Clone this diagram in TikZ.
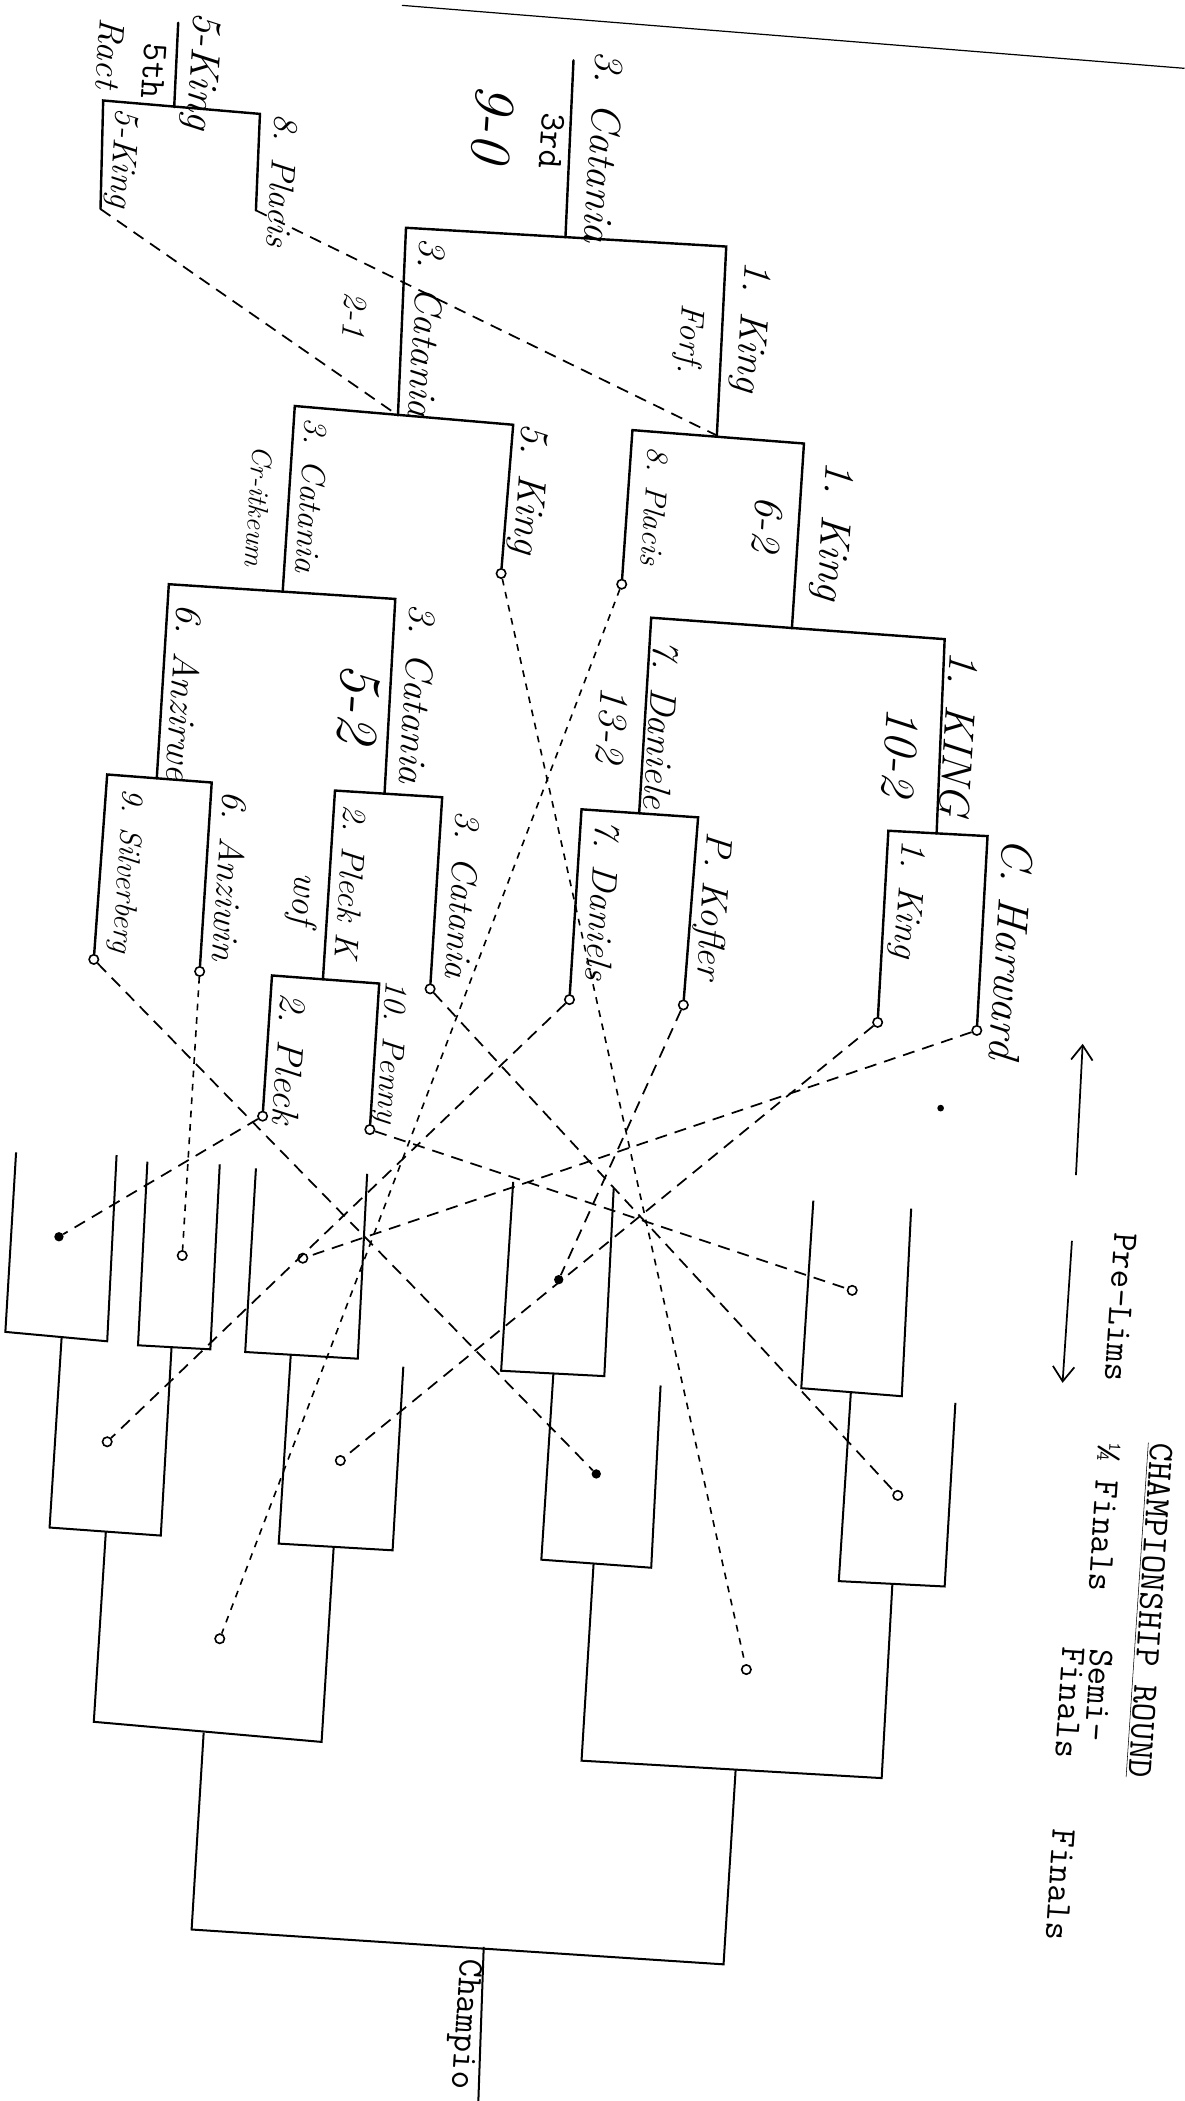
\documentclass[tikz,border=0pt]{standalone}
\usepackage{fontspec}
\usetikzlibrary{arrows.meta}

\begin{document}
\begin{tikzpicture}[x=1pt, y=-1pt,
      br/.style={line width=1.5pt, line join=miter},          % getippte Klammern
      hb/.style={line width=1.8pt, line cap=round},           % handgezeichnete Klammern
      dsh/.style={line width=1.3pt, dash pattern=on 9pt off 6pt},
      dshf/.style={line width=1.2pt, dash pattern=on 5pt off 5pt},
      ring/.style={circle, draw, line width=1.2pt, inner sep=0pt, minimum size=7pt, fill=white},
      blob/.style={circle, fill, inner sep=0pt, minimum size=7pt},
      tw/.style={font=\ttfamily\fontsize{27}{21}\selectfont, rotate=-93.8, anchor=west, inner sep=0pt, align=left},
      hw/.style={font=\itshape\fontsize{#1}{#1}\selectfont, rotate=-93.8, inner sep=0pt},
      >={Straight Barb[length=11pt, width=16pt, line width=1.3pt]}]
   \useasboundingbox (0,0) rectangle (884,1568);
   % Blattkante
   \draw[line width=0.9pt] (300,4) -- (884,51);

   % Kreise der Trostrunde
   \node[ring] (c5King) at (374,428) {};
   \node[ring] (cPlacis) at (464,436) {};
   \node[ring] (cSilver) at (70,716) {};
   \node[ring] (cAnziwin) at (149,725) {};
   \node[ring] (cCat) at (321,738) {};
   \node[ring] (cPleck) at (196,833) {};
   \node[ring] (cPenny) at (276,843) {};
   \node[ring] (cDaniels) at (425,746) {};
   \node[ring] (cKofler) at (510,750) {};
   \node[ring] (cKing) at (655,763) {};
   \node[ring] (cHarward) at (729,769) {};
   \coordinate (l5King) at (75,156);
   \coordinate (l8Placis) at (191,157);
   \coordinate (jS1) at (297,310);
   \coordinate (jS2) at (535,325);

   % Trostrunde (Hand)
   \draw[hb] (133,17) -- (130,80);
   \draw[hb] (l5King) -- (77,75) -- (194,85) -- (l8Placis);
   \draw[hb] (428,45) -- (422,177);
   \draw[hb] (jS1) -- (303,170) -- (542,184) -- (jS2);
   \draw[hb] (211,441) -- (220,303) -- (383,317) -- (c5King);
   \draw[hb] (cPlacis) -- (472,321) -- (600,331) -- (591,469);
   \draw[hb] (117,581) -- (126,436) -- (295,447) -- (287,592);
   \draw[hb] (477,607) -- (486,461) -- (705,477) -- (699,622);
   \draw[hb] (cSilver) -- (80,578) -- (158,584) -- (cAnziwin);
   \draw[hb] (241,731) -- (250,590) -- (330,595) -- (cCat);
   \draw[hb] (cPleck) -- (203,728) -- (283,734) -- (cPenny);
   \draw[hb] (cDaniels) -- (434,604) -- (521,610) -- (cKofler);
   \draw[hb] (cKing) -- (663,620) -- (737,624) -- (cHarward);

   % Meisterschaftsrunde (getippt)
   \draw[br] (12,860) -- (4,994) -- (80,1001) -- (87,862);
   \draw[br] (110,867) -- (103,1004) -- (157,1007) -- (164,869);
   \draw[br] (191,872) -- (183,1009) -- (267,1014) -- (274,876);
   \draw[br] (383,882) -- (374,1023) -- (451,1027) -- (458,887);
   \draw[br] (607,896) -- (598,1036) -- (673,1042) -- (680,902);
   \draw[br] (46,998) -- (37,1140) -- (120,1146) -- (128,1006);
   \draw[br] (217,1011) -- (208,1152) -- (293,1157) -- (301,1020);
   \draw[br] (413,1025) -- (404,1164) -- (486,1170) -- (493,1034);
   \draw[br] (635,1039) -- (626,1180) -- (705,1184) -- (713,1047);
   \draw[br] (79,1143) -- (70,1285) -- (240,1300) -- (249,1155);
   \draw[br] (443,1167) -- (434,1314) -- (658,1327) -- (666,1182);
   \draw[br] (152,1293) -- (143,1440) -- (540,1466) -- (549,1321);
   \draw[br] (361,1453) -- (357,1568);

   % Kreise der Meisterschaftsrunde
   \node[blob] (pU1) at (44,923) {};
   \node[ring] (pU2) at (136,937) {};
   \node[ring] (pU3) at (226,939) {};
   \node[blob] (pU7) at (417,955) {};
   \node[ring] (pU8) at (636,963) {};
   \node[ring] (qQ1) at (80,1076) {};
   \node[ring] (qQ2) at (254,1090) {};
   \node[blob] (qQL) at (445,1100) {};
   \node[ring] (qQR) at (670,1116) {};
   \node[ring] (sSL) at (164,1223) {};
   \node[ring] (sSR) at (557,1246) {};

   % Verlierer
   \draw[dsh] (l5King) -- (jS1);
   \draw[dsh] (l8Placis) -- (jS2);
   \foreach \a/\b in {cAnziwin/pU2, c5King/sSR, cPlacis/sSL}
      \draw[dshf] (\a) -- (\b);
   \foreach \a/\b in {cPleck/pU1, cKing/qQ2, cHarward/pU3, cDaniels/qQ1, cCat/qQR, cKofler/pU7, cPenny/pU8, cSilver/qQL}
      \draw[dsh] (\a) -- (\b);
   \fill (702,827) circle (2.5);

   % Pfeile
   \coordinate (aUpA) at (803,877);
   \coordinate (aUpB) at (808,779);
   \coordinate (aDnA) at (800,926);
   \coordinate (aDnB) at (793,1032);
   \draw[->, line width=1.3pt] (aUpA) -- (aUpB);
   \draw[->, line width=1.3pt] (aDnA) -- (aDnB);

   % Beschriftung getippt
   \node[tw] (tPre) at (840,920) {Pre-Lims};
   \node[tw] (tTitle) at (866,1077) {\underline{CHAMPIONSHIP ROUND}};
   \node[tw] (tQuarter) at (828,1077) {¼ Finals};
   \node[tw, anchor=north west] (tSemi) at (831,1231) {Semi-\\Finals};
   \node[tw] (tFinal) at (794,1365) {Finals};
   \node[tw] (tChamp) at (349,1462) {Champio};
   \node[tw] (t3rd) at (413,84) {3rd};
   \node[tw] (t5th) at (116,32) {5th};

   % Beschriftung Hand
   \node[hw=31] (tKing5) at (150,53) {5-King};
   \node[hw=27] (tRact) at (82,40) {Ract};
   \node[hw=26] (tKing5b) at (91,118) {5-King};
   \node[hw=26] (tPlacis5) at (211,135) {8. Placis};
   \node[hw=31] (tCat0) at (451,110) {3. Catania};
   \node[hw=43] (tScore0) at (368,92) {9-0};
   \node[hw=30] (tKing0) at (560,244) {1. King};
   \node[hw=25] (tForf) at (514,253) {Forf.};
   \node[hw=29] (tCat0b) at (319,245) {3. Catania};
   \node[hw=25] (tScore1) at (265,235) {2-1};
   \node[hw=25] (tCat1) at (233,370) {3. Catania};
   \node[hw=21] (tCrit) at (193,378) {Cr-itkeum};
   \node[hw=30] (tKing1) at (394,365) {5. King};
   \node[hw=23] (tPlacis2) at (489,378) {8. Placis};
   \node[hw=32] (tKing2) at (621,396) {1. King};
   \node[hw=31] (tScore2) at (573,391) {6-2};
   \node[hw=29] (tCat3) at (312,518) {3. Catania};
   \node[hw=44] (tScore3) at (268,525) {5-2};
   \node[hw=28] (tAnz3) at (138,517) {6. Anzirwe};
   \node[hw=23] (tSilver) at (94,650) {9. Silverberg};
   \node[hw=27] (tAnz5) at (172,654) {6. Anziwin};
   \node[hw=25] (tPleck6) at (262,658) {2. Pleck K};
   \node[hw=27] (tWof) at (226,671) {wof};
   \node[hw=27] (tCat6) at (346,668) {3. Catania};
   \node[hw=28] (tPleck) at (216,790) {2. Pleck};
   \node[hw=24] (tPenny) at (291,785) {10. Penny};
   \node[hw=28] (tDan4) at (494,541) {7. Daniele};
   \node[hw=31] (tScore4) at (457,541) {13-2};
   \node[hw=32] (tKing4) at (716,548) {1. KING};
   \node[hw=36] (tScore5) at (672,561) {10-2};
   \node[hw=27] (tDan7) at (450,672) {7. Daniels};
   \node[hw=28] (tKofler) at (531,676) {P. Kofler};
   \node[hw=27] (tKing8) at (677,671) {1. King};
   \node[hw=33] (tHarward) at (755,708) {C. Harward};
\end{tikzpicture}
\end{document}
